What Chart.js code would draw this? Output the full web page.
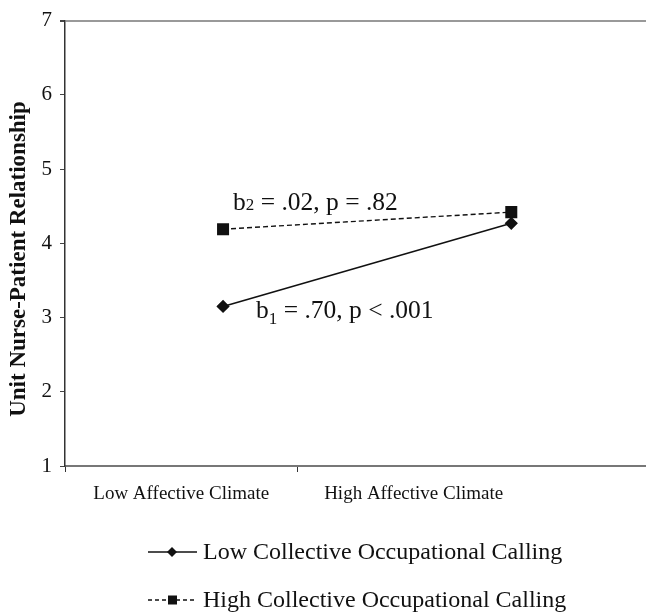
<!DOCTYPE html>
<html>
<head>
<meta charset="utf-8">
<script src="https://cdn.jsdelivr.net/npm/chart.js@4/dist/chart.umd.min.js"></script>
<style>
  html, body { margin: 0; padding: 0; background: #fff; overflow: hidden; }
  #wrap { width: 646px; height: 612px; overflow: hidden; }
  canvas { display: block; }
</style>
</head>
<body>
<div id="wrap"><canvas id="chart" width="655" height="612"></canvas></div>
<script>
// data
const categories = ['Low Affective Climate', 'High Affective Climate'];
const categoryTicks = [0.5, 1.5];
const pointLevels = [0.68, 1.92];
const seriesNames = ['Low Collective Occupational Calling', 'High Collective Occupational Calling'];
const lowCalling = [3.15, 4.27];
const highCalling = [4.19, 4.42];
const yTicks = [1, 2, 3, 4, 5, 6, 7];
const yTitle = 'Unit Nurse-Patient Relationship';

const serif = "'Liberation Serif', 'DejaVu Serif', serif";
const ink = '#111';

const toPoints = vals => vals.map((v, i) => ({ x: pointLevels[i], y: v }));

// slope labels, y title + legend drawn on canvas
const extras = {
  id: 'extras',
  afterDraw(chart) {
    const ctx = chart.ctx;
    const xs = chart.scales.x, ys = chart.scales.y;
    ctx.save();
    ctx.fillStyle = ink;
    ctx.textBaseline = 'alphabetic';

    // y title
    ctx.save();
    ctx.translate(19, 259);
    ctx.rotate(-Math.PI / 2);
    ctx.textAlign = 'center';
    ctx.textBaseline = 'middle';
    ctx.font = 'bold 23px ' + serif;
    ctx.fillText(yTitle, 0, 0);
    ctx.restore();

    // b2 label
    let x = xs.getPixelForValue(pointLevels[0]) + 10;
    let y = ys.getPixelForValue(highCalling[0]) - 19;
    ctx.font = '25.5px ' + serif;
    ctx.fillText('b', x, y);
    x += ctx.measureText('b').width;
    ctx.font = '17px ' + serif;
    ctx.fillText('2', x, y);
    x += ctx.measureText('2').width;
    ctx.font = '25.5px ' + serif;
    ctx.fillText(' = .02, p = .82', x, y);

    // b1 label
    x = xs.getPixelForValue(pointLevels[0]) + 33;
    y = ys.getPixelForValue(lowCalling[0]) + 12;
    ctx.font = '25.5px ' + serif;
    ctx.fillText('b', x, y);
    x += ctx.measureText('b').width;
    ctx.font = '17px ' + serif;
    ctx.fillText('1', x, y + 6);
    x += ctx.measureText('1').width;
    ctx.font = '25.5px ' + serif;
    ctx.fillText(' = .70, p < .001', x, y);

    // legend
    const rows = [
      { name: seriesNames[0], y: 552, dash: [], shape: 'diamond' },
      { name: seriesNames[1], y: 600, dash: [4, 3], shape: 'square' }
    ];
    rows.forEach(r => {
      ctx.strokeStyle = ink;
      ctx.lineWidth = 1.5;
      ctx.setLineDash(r.dash);
      ctx.beginPath();
      ctx.moveTo(148, r.y);
      ctx.lineTo(197, r.y);
      ctx.stroke();
      ctx.setLineDash([]);
      ctx.beginPath();
      if (r.shape === 'diamond') {
        ctx.moveTo(172, r.y - 5); ctx.lineTo(177, r.y); ctx.lineTo(172, r.y + 5); ctx.lineTo(167, r.y);
        ctx.closePath();
      } else {
        ctx.rect(168, r.y - 4.5, 9, 9);
      }
      ctx.fill();
      ctx.font = '24px ' + serif;
      ctx.textBaseline = 'middle';
      ctx.fillText(r.name, 203, r.y + 1);
    });
    ctx.restore();
  }
};

new Chart(document.getElementById('chart'), {
  type: 'line',
  data: {
    datasets: [{
      label: seriesNames[0],
      data: toPoints(lowCalling),
      borderColor: ink,
      backgroundColor: ink,
      borderWidth: 1.6,
      pointStyle: 'rectRot',
      pointRadius: 5.5,
      pointHoverRadius: 5.5
    }, {
      label: seriesNames[1],
      data: toPoints(highCalling),
      borderColor: ink,
      backgroundColor: ink,
      borderWidth: 1.4,
      borderDash: [5, 3],
      pointStyle: 'rect',
      pointRadius: 7.5,
      pointHoverRadius: 7.5
    }]
  },
  options: {
    responsive: false,
    animation: false,
    layout: { padding: { top: 20, right: 0, bottom: 100, left: 0 } },
    plugins: { legend: { display: false }, tooltip: { enabled: false } },
    scales: {
      x: {
        type: 'linear',
        min: 0,
        max: 2.5,
        afterBuildTicks(scale) {
          scale.ticks = [0, 0.5, 1, 1.5].map(v => ({ value: v }));
        },
        afterFit(scale) {
          scale.height = 46;
        },
        ticks: {
          color: ink,
          font: { family: serif, size: 19 },
          padding: 11,
          maxRotation: 0,
          autoSkip: false,
          callback: v => {
            const i = categoryTicks.indexOf(v);
            return i >= 0 ? categories[i] : '';
          }
        },
        grid: {
          drawOnChartArea: false,
          tickLength: 6,
          lineWidth: 1,
          color: c => (c.tick && (c.tick.value === 0 || c.tick.value === 1)) ? '#333' : 'rgba(0,0,0,0)'
        },
        border: { color: '#777', width: 2 }
      },
      y: {
        min: 1,
        max: 7,
        afterBuildTicks(scale) {
          scale.ticks = yTicks.map(v => ({ value: v }));
        },
        afterFit(scale) { scale.width = 65; },
        ticks: {
          color: ink,
          font: { family: serif, size: 21 },
          padding: 8
        },
        grid: {
          tickLength: 5,
          tickColor: '#444',
          lineWidth: c => (c.tick && c.tick.value === 7) ? 2 : 1,
          color: c => (c.tick && c.tick.value === 7) ? '#999' : 'rgba(0,0,0,0)'
        },
        border: { color: '#333', width: 1.5 }
      }
    }
  },
  plugins: [extras]
});
</script>
</body>
</html>
